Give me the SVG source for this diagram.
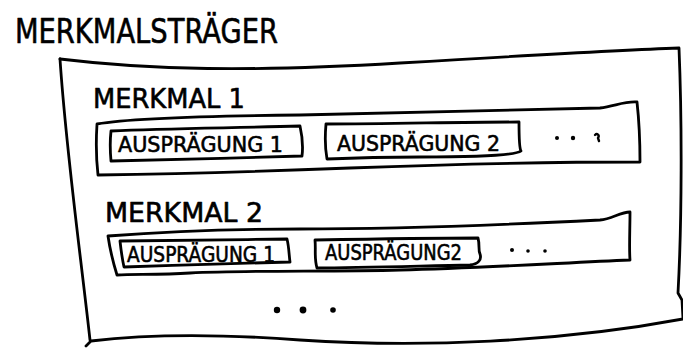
<svg xmlns="http://www.w3.org/2000/svg" width="683" height="349" viewBox="0 0 683 349">
  <style>
    .ink { fill: none; stroke: #000; stroke-width: 2.8; stroke-linecap: round; stroke-linejoin: round; }
    .thin { fill: none; stroke: #000; stroke-width: 2.4; stroke-linecap: round; stroke-linejoin: round; }
    .dot { fill: #000; }
    text { font-family: "DejaVu Sans", "Liberation Sans", sans-serif; fill: #000; stroke: #000; stroke-width: 0.6; stroke-linejoin: round; }
    .title { font-size: 33px; }
    .label { font-size: 26px; }
    .value { font-size: 21px; }
  </style>
  <rect width="683" height="349" fill="#fff"/>

  <!-- Outer carrier box with its heading -->
  <g id="merkmalstraeger">
    <text class="title" x="15" y="43" textLength="263" lengthAdjust="spacingAndGlyphs">MERKMALSTRÄGER</text>
    <path class="ink" d="M60,59 C150,70 250,72 400,63 S620,50 679,48 C682,120 682,220 678,293 L682,300 L683,319 C560,342 420,348 300,340 C220,334 150,334 91,341 L86,346"/>
    <path class="ink" d="M60,59 C66,150 80,250 90,340"/>
    <circle class="dot" cx="277" cy="310" r="3.2"/>
    <circle class="dot" cx="303" cy="310" r="3.4"/>
    <circle class="dot" cx="333" cy="310" r="2.8"/>
  </g>

  <!-- Feature 1 row -->
  <g id="merkmal-1">
    <text class="label" x="93" y="108" textLength="152" lengthAdjust="spacingAndGlyphs">MERKMAL 1</text>
    <path class="ink" d="M97,124 C130,118 200,116 300,115 C400,112 500,110 600,108 C615,106 625,101 637,102 C639,120 640,145 640,162 C560,162 460,164 350,168 C250,172 170,174 98,175 C96,158 96,140 97,124 Z"/>
    <circle class="dot" cx="557" cy="138" r="2"/>
    <circle class="dot" cx="573" cy="138" r="2.2"/>
    <path class="thin" d="M595,135 C597,133 600,135 598,138 L599,141"/>
  </g>

  <g id="auspraegung-1-1">
    <path class="ink" d="M111,131 C170,128 240,128 300,126 C302,135 303,148 302,156 C240,158 170,160 111,161 C110,150 110,140 111,131 Z"/>
    <text class="value" x="118" y="152" textLength="165" lengthAdjust="spacingAndGlyphs">AUSPRÄGUNG 1</text>
  </g>

  <g id="auspraegung-1-2">
    <path class="ink" d="M326,124 C390,124 460,122 519,122 C519,135 519,148 521,151 C516,155 490,157 420,157 C380,157 350,158 327,159 C325,148 325,135 326,124 Z"/>
    <text class="value" x="337" y="151" textLength="163" lengthAdjust="spacingAndGlyphs">AUSPRÄGUNG 2</text>
  </g>

  <!-- Feature 2 row -->
  <g id="merkmal-2">
    <text class="label" x="105" y="222" textLength="158" lengthAdjust="spacingAndGlyphs">MERKMAL 2</text>
    <path class="ink" d="M108,236 C160,232 220,229 300,229 C400,229 500,225 600,220 C612,219 620,212 630,212 C630,230 629,248 630,260 C560,263 480,268 400,270 C330,272 250,270 190,273 C160,275 135,274 117,275 C113,262 110,250 108,236 Z"/>
    <circle class="dot" cx="512" cy="250" r="2"/>
    <circle class="dot" cx="528" cy="251" r="1.8"/>
    <circle class="dot" cx="545" cy="251" r="1.8"/>
  </g>

  <g id="auspraegung-2-1">
    <path class="ink" d="M120,241 C170,240 230,240 287,239 C289,247 289,255 290,262 C240,263 180,265 124,267 C122,258 121,250 120,241 Z"/>
    <text class="value" x="127" y="262" textLength="148" lengthAdjust="spacingAndGlyphs">AUSPRÄGUNG 1</text>
  </g>

  <g id="auspraegung-2-2">
    <path class="ink" d="M315,240 C370,239 430,238 478,238 C480,245 478,250 480,254 C482,260 478,264 470,265 C420,266 360,268 317,268 C314,258 316,250 315,240 Z"/>
    <text class="value" x="325" y="260" textLength="137" lengthAdjust="spacingAndGlyphs">AUSPRÄGUNG2</text>
  </g>

  <g id="connectors"/>
</svg>
